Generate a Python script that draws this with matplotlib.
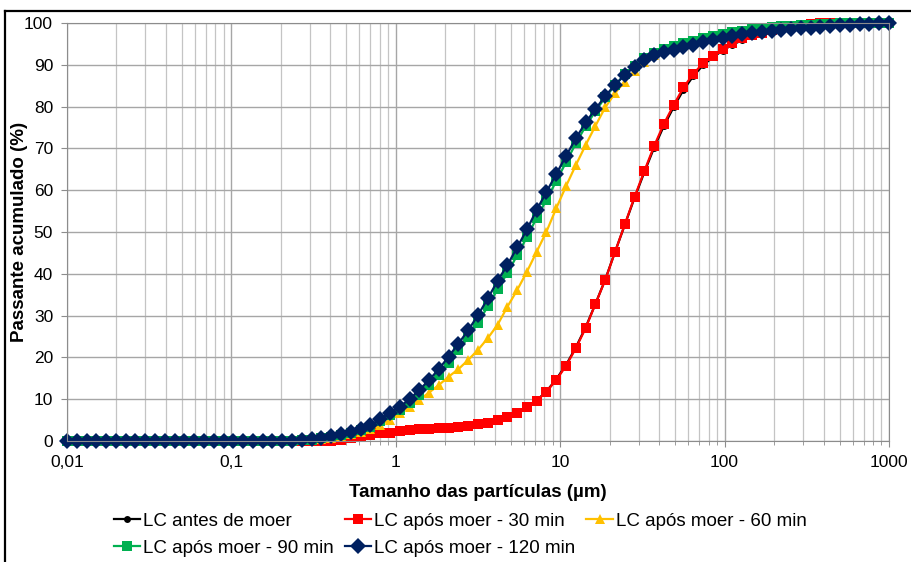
import numpy as np
import matplotlib
matplotlib.use("Agg")
import matplotlib.pyplot as plt
from matplotlib.lines import Line2D
from matplotlib.ticker import FixedLocator, LogLocator, NullFormatter, FuncFormatter

plt.rcParams['font.family'] = ['Liberation Sans', 'DejaVu Sans']

# particle size classes (um)
sizes = [0.01, 0.01147, 0.01315, 0.01509, 0.0173, 0.01985, 0.02276, 0.0261, 0.02994, 0.03434,
         0.03938, 0.04516, 0.05179, 0.0594, 0.06813, 0.07813, 0.08961, 0.1028, 0.1179, 0.1352,
         0.1551, 0.1778, 0.2039, 0.2339, 0.2683, 0.3077, 0.3529, 0.4047, 0.4642, 0.5324,
         0.6105, 0.7003, 0.8031, 0.9211, 1.056, 1.212, 1.39, 1.594, 1.828, 2.097,
         2.405, 2.758, 3.162, 3.627, 4.16, 4.771, 5.472, 6.276, 7.197, 8.254,
         9.467, 10.86, 12.45, 14.28, 16.38, 18.78, 21.54, 24.71, 28.34, 32.5,
         37.28, 42.75, 49.03, 56.23, 64.49, 73.96, 84.83, 97.29, 111.6, 128.0,
         146.8, 168.3, 193.1, 221.4, 253.9, 291.3, 334.0, 383.1, 439.4, 503.9,
         577.9, 662.8, 760.2, 871.8, 1000]

# cumulative passing (%)
antes = [0] * 20 + [
    0, 0, 0, 0, 0, 0, 0, 0.1, 0.3, 0.6,
    0.9, 1.3, 1.7, 2.0, 2.3, 2.6, 2.8, 2.9, 3.0, 3.2,
    3.4, 3.7, 4.0, 4.4, 5.0, 5.8, 6.8, 8.1, 9.7, 11.9,
    14.8, 18.2, 22.4, 27.2, 32.8, 38.6, 45.2, 51.7, 58.2, 64.3,
    70.2, 75.4, 79.9, 84.0, 87.3, 89.9, 91.8, 93.4, 94.8, 95.9,
    96.8, 97.5, 98.1, 98.6, 99.0, 99.4, 99.6, 99.8, 100, 100,
    100, 100, 100, 100, 100]

min30 = [0] * 20 + [
    0, 0, 0, 0, 0, 0, 0, 0.1, 0.3, 0.6,
    0.9, 1.4, 1.8, 2.0, 2.4, 2.6, 2.8, 2.9, 3.1, 3.2,
    3.4, 3.7, 4.1, 4.4, 5.0, 5.8, 6.8, 8.1, 9.6, 11.8,
    14.6, 18.0, 22.2, 27.0, 32.8, 38.5, 45.2, 51.8, 58.4, 64.6,
    70.6, 75.9, 80.4, 84.6, 87.8, 90.4, 92.1, 93.7, 95.1, 96.3,
    97.1, 97.7, 98.3, 98.8, 99.2, 99.5, 99.7, 99.9, 100, 100,
    100, 100, 100, 100, 100]

min60 = [0] * 20 + [
    0, 0, 0, 0.05, 0.15, 0.3, 0.5, 0.8, 1.2, 1.6,
    2.2, 2.9, 3.8, 5.0, 6.6, 8.2, 9.8, 11.6, 13.4, 15.4,
    17.2, 19.4, 21.8, 24.6, 27.8, 32.1, 36.1, 40.5, 45.3, 50.1,
    55.7, 61.0, 66.0, 70.8, 75.4, 79.8, 83.2, 86.0, 88.6, 90.7,
    92.3, 93.5, 94.4, 95.1, 95.7, 96.3, 96.8, 97.3, 97.7, 98.1,
    98.4, 98.7, 98.9, 99.1, 99.3, 99.5, 99.6, 99.7, 99.8, 99.9,
    100, 100, 100, 100, 100]

min90 = [0] * 20 + [
    0, 0, 0.05, 0.1, 0.2, 0.35, 0.6, 1.0, 1.5, 2.0,
    2.6, 3.4, 4.7, 6.2, 7.5, 9.1, 11.1, 13.4, 15.8, 18.7,
    21.7, 24.8, 28.3, 32.2, 36.3, 40.2, 44.4, 48.8, 53.4, 57.7,
    62.2, 66.7, 71.2, 75.3, 78.9, 82.2, 85.1, 87.7, 89.8, 91.6,
    92.9, 93.8, 94.5, 95.2, 95.8, 96.4, 96.9, 97.4, 97.8, 98.2,
    98.5, 98.8, 99.0, 99.2, 99.4, 99.5, 99.6, 99.7, 99.8, 99.9,
    100, 100, 100, 100, 100]

min120 = [0] * 20 + [
    0, 0, 0.05, 0.1, 0.2, 0.4, 0.7, 1.2, 1.7, 2.2,
    2.9, 3.8, 5.2, 6.8, 8.2, 10.0, 12.2, 14.6, 17.2, 20.2,
    23.3, 26.5, 30.1, 34.1, 38.3, 42.1, 46.3, 50.6, 55.3, 59.6,
    63.9, 68.2, 72.4, 76.2, 79.4, 82.5, 85.2, 87.6, 89.5, 91.1,
    92.3, 93.0, 93.6, 94.2, 94.8, 95.4, 96.0, 96.5, 96.9, 97.3,
    97.6, 97.9, 98.1, 98.3, 98.5, 98.7, 98.9, 99.1, 99.3, 99.5,
    99.6, 99.7, 99.8, 99.9, 100]

labels = ["LC antes de moer", "LC após moer - 30 min", "LC após moer - 60 min",
          "LC após moer - 90 min", "LC após moer - 120 min"]
colors = ["#000000", "#FF0000", "#FFC000", "#00B050", "#002060"]
markers = ["o", "s", "^", "s", "D"]
msizes = [5, 6.8, 7.8, 6.8, 8.5]

fig = plt.figure(figsize=(9.12, 5.62), dpi=100)
ax = fig.add_axes([67 / 912, 1 - 441 / 562, (889 - 67) / 912, (441 - 23) / 562])

handles = []
for ys, lab, c, m, ms in zip([antes, min30, min60, min90, min120], labels, colors, markers, msizes):
    h, = ax.plot(sizes, ys, color=c, marker=m, markersize=ms, linewidth=1.6,
                 markeredgewidth=0, label=lab, clip_on=False)
    handles.append(h)

ax.set_xscale("log")
ax.set_xlim(0.01, 1000)
ax.set_ylim(0, 100)
ax.set_yticks(np.arange(0, 101, 10))
ax.xaxis.set_major_locator(FixedLocator([0.01, 0.1, 1, 10, 100, 1000]))
ax.xaxis.set_minor_locator(LogLocator(base=10, subs=np.arange(2, 10)))
ax.xaxis.set_minor_formatter(NullFormatter())
ax.xaxis.set_major_formatter(FuncFormatter(lambda v, p: ("%g" % v).replace(".", ",")))

ax.grid(True, which="major", color="#a6a6a6", linewidth=1.0)
ax.grid(True, which="minor", axis="x", color="#c4c4c4", linewidth=0.9)
ax.set_axisbelow(True)
for s in ax.spines.values():
    s.set_color("#8c8c8c")
ax.tick_params(which="both", colors="#8c8c8c", labelcolor="black", labelsize=12.5)
ax.tick_params(which="major", length=4)
ax.tick_params(which="minor", length=3)
ax.tick_params(axis="x", which="major", pad=6)
ax.tick_params(axis="y", which="major", pad=6)

ax.set_xlabel("Tamanho das partículas (µm)", fontsize=13.5, fontweight="bold", labelpad=10)
ax.set_ylabel("Passante acumulado (%)", fontsize=13.5, fontweight="bold")
ax.yaxis.set_label_coords(-0.047, 0.5)

# Excel-like row-major legend order
order = [0, 3, 1, 4, 2]
ax.legend([handles[i] for i in order], [labels[i] for i in order], ncol=3,
          loc="upper left", bbox_to_anchor=(0.057, -0.172), frameon=False, fontsize=13.5,
          handlelength=1.4, handletextpad=0.15, columnspacing=0.6, labelspacing=0.5,
          borderaxespad=0, borderpad=0)

# outer frame (top and left edges visible)
fig.add_artist(Line2D([5 / 912, 1], [1 - 11 / 562] * 2, color="black", linewidth=1.6))
fig.add_artist(Line2D([5 / 912] * 2, [0, 1 - 11 / 562], color="black", linewidth=1.6))

fig.savefig("out.png", dpi=100)
